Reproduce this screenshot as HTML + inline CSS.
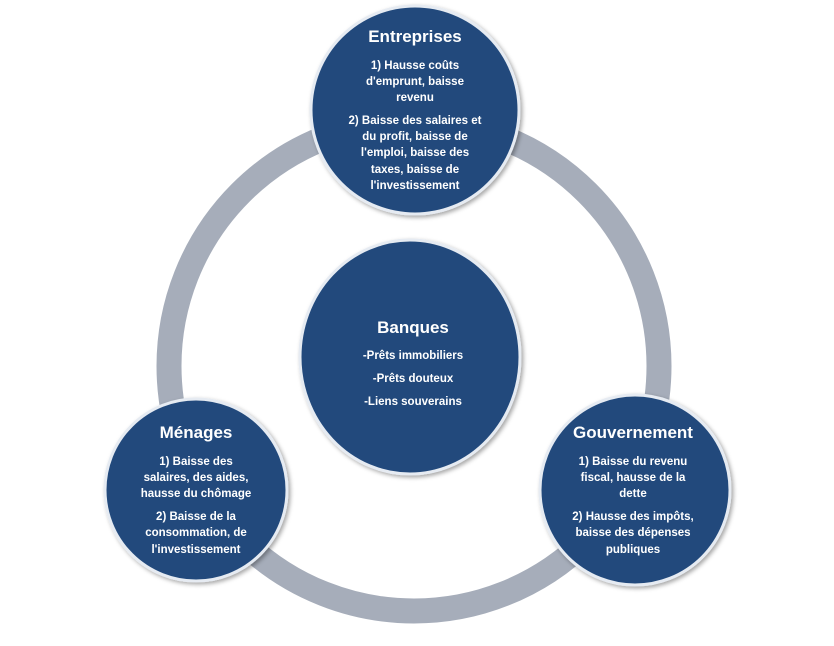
<!DOCTYPE html>
<html><head><meta charset="utf-8"><style>
html,body{margin:0;padding:0;background:#fff;}
svg{display:block;}
text{font-family:"Liberation Sans",sans-serif;fill:#fff;font-weight:bold;text-anchor:middle;}
.t{font-size:17px;}
.b{font-size:11.5px;}
</style></head><body>
<svg width="834" height="646" viewBox="0 0 834 646">
<defs>
<filter id="sh" x="-20%" y="-20%" width="140%" height="140%"><feDropShadow dx="2" dy="2" stdDeviation="2" flood-color="#000" flood-opacity="0.35"/></filter>
</defs>
<circle cx="414" cy="366" r="245" fill="none" stroke="#a6adba" stroke-width="25"/>
<g fill="#224a7c" stroke="#e6ebf2" stroke-width="3" filter="url(#sh)">
<circle cx="415" cy="110" r="104"/>
<ellipse cx="410" cy="357" rx="110" ry="117"/>
<circle cx="196" cy="490" r="91"/>
<circle cx="635" cy="490" r="95"/>
</g>
<text class="t" x="415" y="42">Entreprises</text>
<text class="b" x="415" y="69">1) Hausse coûts</text>
<text class="b" x="415" y="85">d'emprunt, baisse</text>
<text class="b" x="415" y="101">revenu</text>
<text class="b" x="415" y="124">2) Baisse des salaires et</text>
<text class="b" x="415" y="140">du profit, baisse de</text>
<text class="b" x="415" y="156">l'emploi, baisse des</text>
<text class="b" x="415" y="173">taxes, baisse de</text>
<text class="b" x="415" y="189">l'investissement</text>

<text class="t" x="413" y="333">Banques</text>
<text class="b" x="413" y="359">-Prêts immobiliers</text>
<text class="b" x="413" y="382">-Prêts douteux</text>
<text class="b" x="413" y="405">-Liens souverains</text>

<text class="t" x="196" y="438">Ménages</text>
<text class="b" x="196" y="465">1) Baisse des</text>
<text class="b" x="196" y="481">salaires, des aides,</text>
<text class="b" x="196" y="497">hausse du chômage</text>
<text class="b" x="196" y="520">2) Baisse de la</text>
<text class="b" x="196" y="536">consommation, de</text>
<text class="b" x="196" y="553">l'investissement</text>

<text class="t" x="633" y="438">Gouvernement</text>
<text class="b" x="633" y="465">1) Baisse du revenu</text>
<text class="b" x="633" y="481">fiscal, hausse de la</text>
<text class="b" x="633" y="497">dette</text>
<text class="b" x="633" y="520">2) Hausse des impôts,</text>
<text class="b" x="633" y="536">baisse des dépenses</text>
<text class="b" x="633" y="553">publiques</text>
</svg>
</body></html>
